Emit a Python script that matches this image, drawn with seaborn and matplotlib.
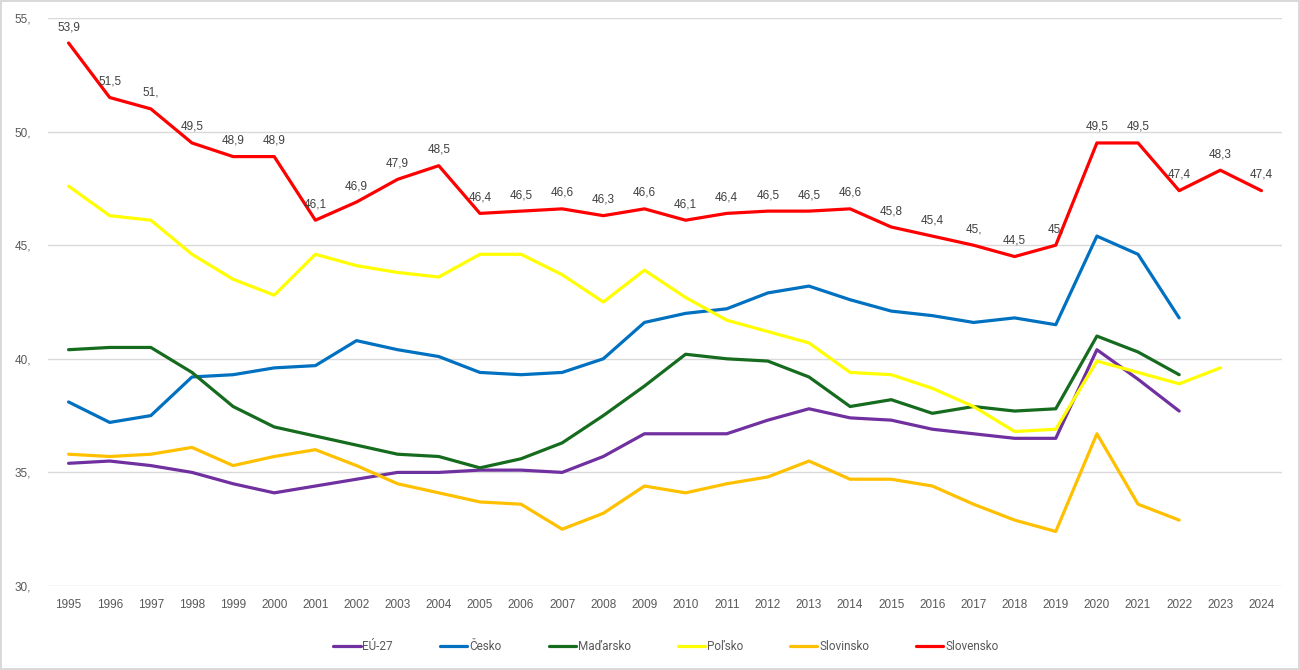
import numpy as np
import pandas as pd
import matplotlib
matplotlib.use("Agg")
import matplotlib.pyplot as plt
import seaborn as sns

years = list(range(1995, 2025))

eu27 = [35.4, 35.5, 35.3, 35.0, 34.5, 34.1, 34.4, 34.7, 35.0, 35.0,
        35.1, 35.1, 35.0, 35.7, 36.7, 36.7, 36.7, 37.3, 37.8, 37.4,
        37.3, 36.9, 36.7, 36.5, 36.5, 40.4, 39.1, 37.7, None, None]
cesko = [38.1, 37.2, 37.5, 39.2, 39.3, 39.6, 39.7, 40.8, 40.4, 40.1,
         39.4, 39.3, 39.4, 40.0, 41.6, 42.0, 42.2, 42.9, 43.2, 42.6,
         42.1, 41.9, 41.6, 41.8, 41.5, 45.4, 44.6, 41.8, None, None]
madarsko = [40.4, 40.5, 40.5, 39.4, 37.9, 37.0, 36.6, 36.2, 35.8, 35.7,
            35.2, 35.6, 36.3, 37.5, 38.8, 40.2, 40.0, 39.9, 39.2, 37.9,
            38.2, 37.6, 37.9, 37.7, 37.8, 41.0, 40.3, 39.3, None, None]
polsko = [47.6, 46.3, 46.1, 44.6, 43.5, 42.8, 44.6, 44.1, 43.8, 43.6,
          44.6, 44.6, 43.7, 42.5, 43.9, 42.7, 41.7, 41.2, 40.7, 39.4,
          39.3, 38.7, 37.9, 36.8, 36.9, 39.9, 39.4, 38.9, 39.6, None]
slovinsko = [35.8, 35.7, 35.8, 36.1, 35.3, 35.7, 36.0, 35.3, 34.5, 34.1,
             33.7, 33.6, 32.5, 33.2, 34.4, 34.1, 34.5, 34.8, 35.5, 34.7,
             34.7, 34.4, 33.6, 32.9, 32.4, 36.7, 33.6, 32.9, None, None]
slovensko = [53.9, 51.5, 51.0, 49.5, 48.9, 48.9, 46.1, 46.9, 47.9, 48.5,
             46.4, 46.5, 46.6, 46.3, 46.6, 46.1, 46.4, 46.5, 46.5, 46.6,
             45.8, 45.4, 45.0, 44.5, 45.0, 49.5, 49.5, 47.4, 48.3, 47.4]

series_names = ["EÚ-27", "Česko", "Maďarsko", "Poľsko", "Slovinsko", "Slovensko"]
series_values = [eu27, cesko, madarsko, polsko, slovinsko, slovensko]
colors = ["#7030A0", "#0070C0", "#156B1E", "#FFFF00", "#FFC000", "#FF0000"]
y_ticks = [30, 35, 40, 45, 50, 55]

rows = []
for name, vals in zip(series_names, series_values):
    for yr, v in zip(years, vals):
        if v is not None:
            rows.append({"year": yr, "value": v, "series": name})
df = pd.DataFrame(rows)

sns.set_theme(style="white")
plt.rcParams["font.family"] = ["Liberation Sans", "DejaVu Sans"]

fig = plt.figure(figsize=(13, 6.7), dpi=100)
fig.patch.set_facecolor("white")
fig.patch.set_edgecolor("#D9D9D9")
fig.patch.set_linewidth(1.5)
ax = fig.add_axes([48 / 1300, 1 - 586 / 670, (1282 - 48) / 1300, (586 - 18) / 670])

sns.lineplot(data=df, x="year", y="value", hue="series", hue_order=series_names,
             palette=dict(zip(series_names, colors)), linewidth=2.3, ax=ax,
             legend=True, estimator=None, sort=True)

def fmt(v):
    s = f"{v:.1f}".replace(".", ",")
    if s.endswith(",0"):
        s = s[:-1]
    return s

for yr, v in zip(years, slovensko):
    ax.annotate(fmt(v), (yr, v), xytext=(0, 11.5), textcoords="offset points",
                ha="center", va="center", fontsize=8.5, color="#404040")

ax.set_xlim(1994.5, 2024.5)
ax.set_ylim(30, 55)
ax.set_yticks(y_ticks)
ax.set_yticklabels([f"{t}," for t in y_ticks])
ax.set_xticks(years)
ax.set_xticklabels([str(y) for y in years])
ax.tick_params(axis="both", length=0, labelsize=8.5, colors="#595959")
ax.tick_params(axis="x", pad=9)
ax.tick_params(axis="y", pad=12)
ax.grid(axis="y", color="#D9D9D9", linewidth=1)
ax.set_axisbelow(True)
for sp in ax.spines.values():
    sp.set_visible(False)
ax.set_xlabel("")
ax.set_ylabel("")

handles, labels = ax.get_legend_handles_labels()
ax.legend_.remove()
fig.legend(handles, labels, loc="center", bbox_to_anchor=(666 / 1300, 1 - 647 / 670),
           ncol=6, frameon=False, handlelength=2.3,
           handletextpad=0.15, columnspacing=4.0,
           prop={"family": ["Roboto", "DejaVu Sans"], "size": 8.5})
for t in fig.legends[0].get_texts():
    t.set_color("#595959")

fig.savefig("out.png", dpi=100, facecolor=fig.get_facecolor(), edgecolor=fig.get_edgecolor())
